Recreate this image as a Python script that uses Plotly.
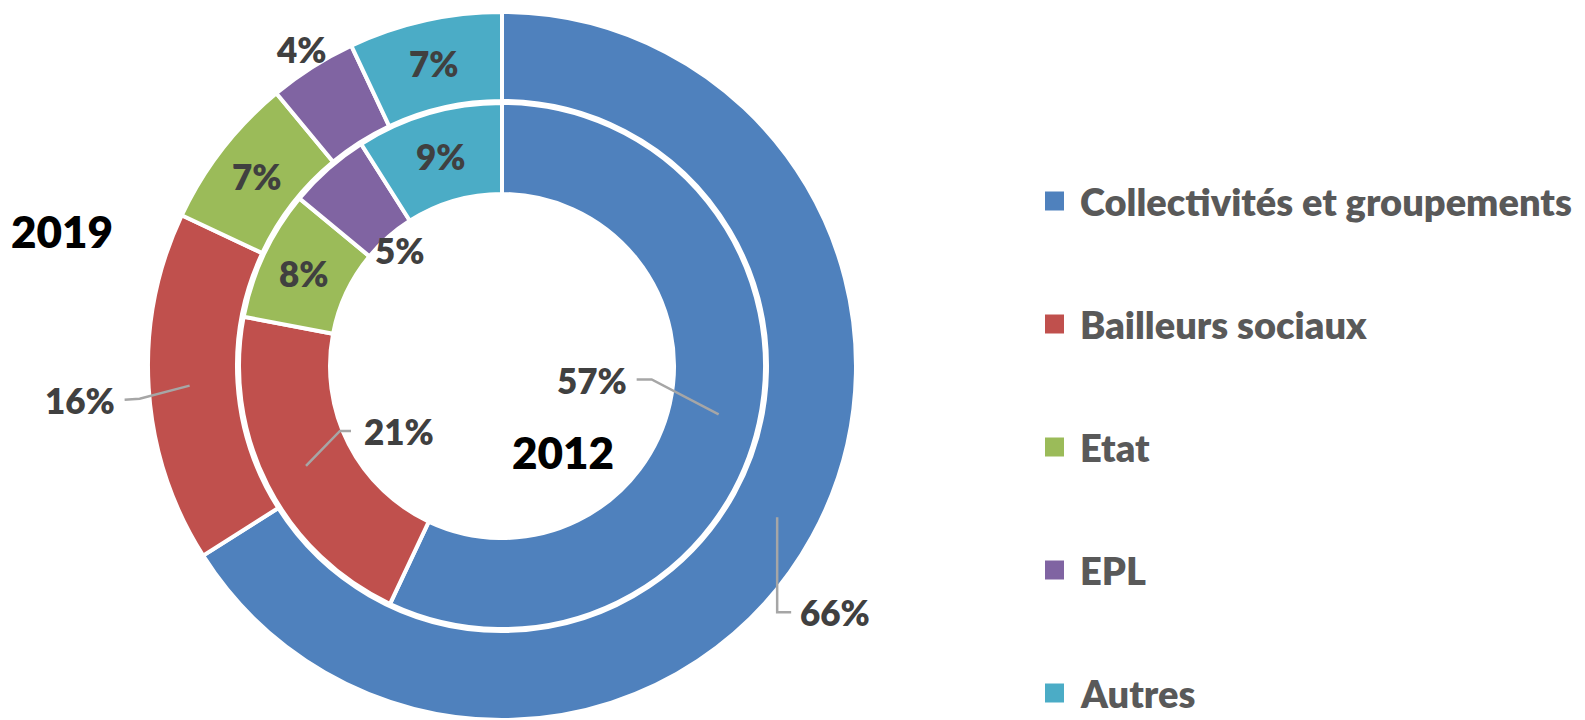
import math
import plotly.graph_objects as go

# ---------------- data ----------------
categories = ["Collectivités et groupements", "Bailleurs sociaux", "Etat", "EPL", "Autres"]
values_2019 = [66, 16, 7, 4, 7]
values_2012 = [57, 21, 8, 5, 9]
colors = ["#4F81BD", "#C0504D", "#9BBB59", "#8064A2", "#4BACC6"]
year_outer = "2019"
year_inner = "2012"

# ---------------- layout constants ----------------
W, H = 1585, 720
CX, CY = 502, 366
LINE_W = 4
R_OUT, R_OUT_IN = 354, 265
R_IN, R_IN_IN = 263, 172
FONT = "Lato"
WEIGHT = 800
LABEL_COLOR = "#404040"
LEADER_COLOR = "#A6A6A6"


def px(x):
    return x / W


def py(y):
    return 1 - y / H


def domain(r):
    return dict(x=[px(CX - r), px(CX + r)], y=[max(0, py(CY + r)), min(1, py(CY - r))])


def mid_angle(values, i):
    tot = sum(values)
    start = sum(values[:i])
    return 2 * math.pi * (start + values[i] / 2) / tot


def polar(a, r):
    return CX + r * math.sin(a), CY - r * math.cos(a)


fig = go.Figure()
fig.add_trace(go.Pie(
    labels=categories, values=values_2019, sort=False, direction="clockwise", rotation=0,
    hole=R_OUT_IN / R_OUT, domain=domain(R_OUT), textinfo="none", showlegend=False,
    marker=dict(colors=colors, line=dict(color="white", width=LINE_W)), hoverinfo="label+percent",
))
fig.add_trace(go.Pie(
    labels=categories, values=values_2012, sort=False, direction="clockwise", rotation=0,
    hole=R_IN_IN / R_IN, domain=domain(R_IN), textinfo="none", showlegend=False,
    marker=dict(colors=colors, line=dict(color="white", width=LINE_W)), hoverinfo="label+percent",
))

annotations = []
shapes = []


def add_text(x, y, text, size=35, color=LABEL_COLOR, xanchor="center"):
    annotations.append(dict(
        x=px(x), y=py(y), xref="paper", yref="paper", text=text, showarrow=False,
        xanchor=xanchor, yanchor="middle",
        font=dict(family=FONT, size=size, color=color, weight=WEIGHT),
    ))


rings = {
    "outer": (values_2019, R_OUT_IN, R_OUT),
    "inner": (values_2012, R_IN_IN, R_IN),
}

# inside labels (mid angle, mid radius)
for ring, idx in [("outer", 2), ("outer", 4), ("inner", 2), ("inner", 4)]:
    vals, r0, r1 = rings[ring]
    x, y = polar(mid_angle(vals, idx), (r0 + r1) / 2 + 1)
    add_text(x, y, f"{vals[idx]}%")

# radial labels without leader
for ring, idx, r in [("outer", 3, 375), ("inner", 3, 154)]:
    vals, _, _ = rings[ring]
    x, y = polar(mid_angle(vals, idx), r)
    add_text(x, y, f"{vals[idx]}%")

# labels with leader lines: (ring, idx, anchor radius, elbow offset, end offset, text offset, anchor)
leaders = [
    ("inner", 0, 222, (-67, -35), (-82, -35), (-90, -34), "right"),
    ("inner", 1, 220, (34, -35), (45, -35), (56, -35), "left"),
    ("outer", 1, 313, (-50, 13), (-65, 14), (-73, 14), "right"),
    ("outer", 0, 314, (0, 95), (14, 95), (21, 95), "left"),
]
for ring, idx, r, elb, end, toff, anc in leaders:
    vals, _, _ = rings[ring]
    ax, ay = polar(mid_angle(vals, idx), r)
    path = (f"M {px(ax)},{py(ay)} L {px(ax + elb[0])},{py(ay + elb[1])} "
            f"L {px(ax + end[0])},{py(ay + end[1])}")
    shapes.append(dict(type="path", xref="paper", yref="paper", path=path,
                       line=dict(color=LEADER_COLOR, width=2.5)))
    add_text(ax + toff[0], ay + toff[1], f"{vals[idx]}%", xanchor=anc)

# year labels
add_text(62, 231, year_outer, size=44, color="#000000")
add_text(563, 452, year_inner, size=44, color="#000000")

# legend
LEG_X, LEG_Y0, LEG_DY, MK = 1045, 201, 123, 19
for i, (cat, col) in enumerate(zip(categories, colors)):
    yc = LEG_Y0 + i * LEG_DY
    shapes.append(dict(type="rect", xref="paper", yref="paper",
                       x0=px(LEG_X), x1=px(LEG_X + MK), y0=py(yc + MK / 2), y1=py(yc - MK / 2),
                       fillcolor=col, line=dict(width=0)))
    add_text(LEG_X + MK + 14, yc, cat, size=38, color="#595959", xanchor="left")

fig.update_layout(
    width=W, height=H, autosize=False,
    margin=dict(l=0, r=0, t=0, b=0),
    paper_bgcolor="white", plot_bgcolor="white",
    annotations=annotations, shapes=shapes,
    showlegend=False,
)

fig.write_html("out.html", config={"displayModeBar": False},
               post_script="document.body.style.margin='0';")
